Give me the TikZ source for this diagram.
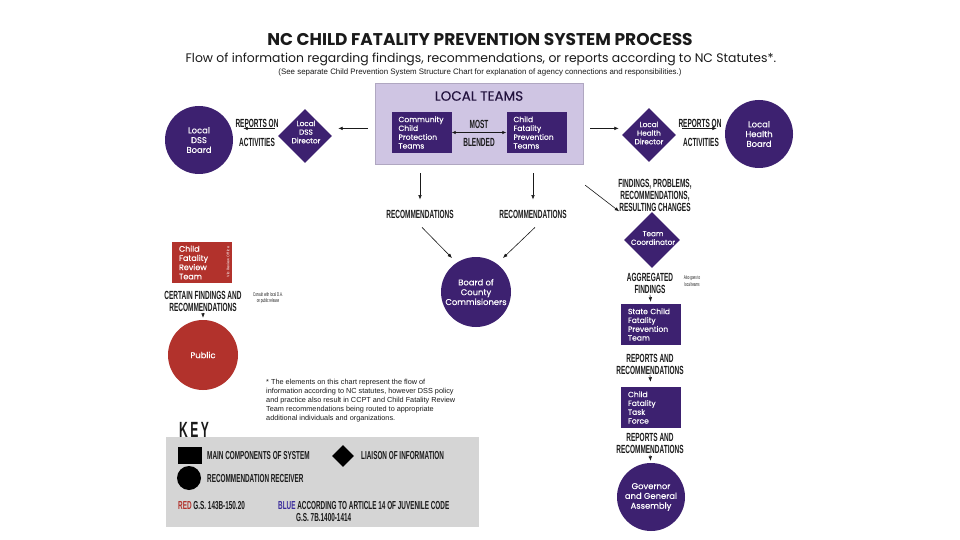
\documentclass[tikz,border=0pt]{standalone}
\usepackage{fontspec}
\setmainfont{Poppins}
\newfontfamily\nodefont[FakeBold=0.35]{Poppins}
\newfontfamily\condfont[FakeStretch=0.55]{Liberation Sans}
\newfontfamily\notefont{Liberation Sans}
\usetikzlibrary{shapes.geometric,arrows.meta,calc}
\definecolor{cfpurple}{HTML}{3D2170}
\definecolor{cflav}{HTML}{CFC5E3}
\definecolor{cfred}{HTML}{B2322C}
\definecolor{cfgrey}{HTML}{D5D5D5}
\definecolor{cfblue}{HTML}{3B2C9C}
\definecolor{cfink}{HTML}{1A1A1A}
\tikzset{
  recv/.style={circle, fill=cfpurple, inner sep=0pt, minimum size=#1},
  recv/.default=68pt,
  liaison/.style={diamond, fill=cfpurple, inner sep=0pt, aspect=1, minimum width=#1, minimum height=#1},
  liaison/.default=54pt,
  compbox/.style={rectangle, fill=cfpurple, text=white, align=left, text width=46pt, inner xsep=7pt, inner ysep=0pt, minimum height=41pt, font=\nodefont\fontsize{7.6}{8.8}\selectfont},
  wtxt/.style={text=white, align=center, inner sep=0pt, font=\nodefont\fontsize{8.4}{9.8}\selectfont},
  dtxt/.style={text=white, align=center, inner sep=0pt, font=\nodefont\fontsize{7.3}{8.6}\selectfont},
  lbl/.style={font=\condfont\bfseries\fontsize{11.8}{12}\selectfont, align=center, inner sep=1pt, text=cfink},
  keytxt/.style={font=\condfont\bfseries\fontsize{11.6}{11}\selectfont, inner sep=0pt, anchor=west, text=cfink},
  smalltxt/.style={font=\condfont\fontsize{5.4}{6.2}\selectfont, align=center, inner sep=0pt, text=cfink},
  arr/.style={-{Latex[length=4.5pt,width=3.6pt]}, line width=0.6pt, draw=cfink},
  dblarr/.style={{Latex[length=4pt,width=3.4pt]}-{Latex[length=4pt,width=3.4pt]}, line width=0.6pt, draw=cfink}
}
\begin{document}
\begin{tikzpicture}[x=1pt,y=-1pt]
\useasboundingbox (0,0) rectangle (960,540);
\fill[white] (0,0) rectangle (960,540);

% titles
\node[font=\bfseries\fontsize{17}{18}\selectfont, text=cfink] (title) at (480,40) {NC CHILD FATALITY PREVENTION SYSTEM PROCESS};
\node[font=\fontsize{12.4}{13}\selectfont, text=cfink] (subtitle) at (481,59) {Flow of information regarding findings, recommendations, or reports according to NC Statutes*.};
\node[font=\notefont\fontsize{7.9}{8}\selectfont, text=cfink] (seenote) at (480,72) {(See separate Child Prevention System Structure Chart for explanation of agency connections and responsibilities.)};

% local teams
\node[fill=cflav, draw=cflav!85!black, line width=0.4pt, minimum width=208pt, minimum height=81pt, inner sep=0pt] (lt) at (479,123.5) {};
\node[font=\nodefont\fontsize{13.5}{14}\selectfont, text=cfpurple!55!black] (ltt) at (479,96) {LOCAL TEAMS};
\node[compbox] (ccpt) at (421.5,132.5) {Community\\Child\\Protection\\Teams};
\node[compbox] (cfpt) at (536.5,132.5) {Child\\Fatality\\Prevention\\Teams};
\node[lbl] (most) at (479,124) {MOST};
\node[lbl] (blend) at (479,142) {BLENDED};
\draw[dblarr] (ccpt) -- (cfpt);

% left branch
\node[recv=68pt] (dssb) at (199,140) {};
\node[wtxt] at (dssb) {Local\\DSS\\Board};
\node[liaison] (dssd) at (305,136) {};
\node[dtxt] at (306,132) {Local\\DSS\\Director};
\node[lbl] (rpl1) at (257,123) {REPORTS ON};
\node[lbl] (rpl2) at (257,142) {ACTIVITIES};
\draw[arr, shorten <=3pt, shorten >=10pt] (dssd.west |- rpl1.south) -- (dssb.east |- rpl1.south);
\draw[arr, shorten <=7pt, shorten >=6pt] (lt.west |- rpl1.south) -- (dssd.east |- rpl1.south);

% right branch
\node[liaison] (lhd) at (649,135) {};
\node[dtxt] at (649,133) {Local\\Health\\Director};
\node[recv=68pt] (lhb) at (759,134) {};
\node[wtxt] at (lhb) {Local\\Health\\Board};
\node[lbl] (rpr1) at (700,123) {REPORTS ON};
\node[lbl] (rpr2) at (701,142) {ACTIVITIES};
\draw[arr, shorten <=7pt, shorten >=3pt] (lt.east |- rpr1.south) -- (lhd.west |- rpr1.south);
\draw[arr, shorten <=6pt, shorten >=8pt] (lhd.east |- rpr1.south) -- (lhb.west |- rpr1.south);

% recommendations to county board
\node[lbl] (rec1) at (420,214) {RECOMMENDATIONS};
\node[lbl] (rec2) at (533,214) {RECOMMENDATIONS};
\draw[arr, shorten <=9pt, shorten >=9pt] (lt.south -| rec1) -- (rec1.north);
\draw[arr, shorten <=9pt, shorten >=9pt] (lt.south -| rec2) -- (rec2.north);
\node[recv=70pt] (bcc) at (476,292) {};
\node[wtxt] at (bcc) {Board of\\County\\Commisioners};
\draw[arr] ($(rec1.south)+(2,8)$) -- ($(bcc)+(-24,-34)$);
\draw[arr] ($(rec2.south)+(2,8)$) -- ($(bcc)+(27,-34)$);

% right column
\node[lbl] (find) at (655,195) {FINDINGS, PROBLEMS,\\RECOMMENDATIONS,\\RESULTING CHANGES};
\draw[arr] ($(lt.south east)+(2,21)$) -- ($(find.south west)+(2,-1)$);
\node[liaison=56pt] (tc) at (652,240) {};
\node[dtxt] at (653,238) {Team\\Coordinator};
\node[lbl] (agg) at (650,283.5) {AGGREGATED\\FINDINGS};
\node[smalltxt] (also) at (692,281) {Also goes to\\local teams};
\node[compbox] (sfpt) at (651,324.5) {State Child\\Fatality\\Prevention\\Team};
\draw[arr, shorten >=2pt] (agg.south) -- (sfpt.north);
\node[lbl] (rep1) at (650,364) {REPORTS AND\\RECOMMENDATIONS};
\node[compbox] (cftf) at (651,407.5) {Child\\Fatality\\Task\\Force};
\draw[arr, shorten >=5pt] (rep1.south) -- (cftf.north);
\node[lbl] (rep2) at (650,443.5) {REPORTS AND\\RECOMMENDATIONS};
\node[recv=68pt] (gov) at (651,497) {};
\node[wtxt] at (gov) {Governor\\and General\\Assembly};
\draw[arr, shorten >=2pt] (rep2.south) -- (gov.north);

% left column (red)
\node[compbox, fill=cfred, font=\nodefont\fontsize{8}{9.2}\selectfont] (cfrt) at (202,262.5) {Child\\Fatality\\Review\\Team};
\node[font=\fontsize{3.6}{4}\selectfont, text=white, rotate=90, inner sep=0pt] (cfrtv) at (228,262) {Via Review Office};
\node[lbl] (cert) at (203,301.5) {CERTAIN FINDINGS AND\\RECOMMENDATIONS};
\node[smalltxt] (consult) at (268,298) {Consult with local D.A.\\on public release};
\node[circle, fill=cfred, inner sep=0pt, minimum size=70pt] (pub) at (203,355) {};
\node[wtxt] at (pub) {Public};
\draw[arr, shorten >=2pt] (cert.south) -- (pub.north);

% footnote
\node[font=\notefont\fontsize{7.3}{9}\selectfont, align=left, anchor=north west, inner sep=0pt, text=cfink] (foot) at (266,379) {* The elements on this chart represent the flow of\\information according to NC statutes, however DSS policy\\and practice also result in CCPT and Child Fatality Review\\Team recommendations being routed to appropriate\\additional individuals and organizations.};

% key
\node[font=\condfont\bfseries\fontsize{22}{22}\selectfont, text=cfink, inner sep=0pt] (keyt) at (194,430) {K\kern2.5pt E\kern2.5pt Y};
\node[fill=cfgrey, minimum width=313pt, minimum height=90pt, inner sep=0pt] (keybox) at (322.5,482) {};
\node[fill=black, minimum width=24pt, minimum height=17pt, inner sep=0pt] (kmain) at (190,455.5) {};
\node[keytxt] (kmaint) at (207,456) {MAIN COMPONENTS OF SYSTEM};
\node[diamond, fill=black, minimum width=22pt, minimum height=22pt, inner sep=0pt] (kdia) at (343,456) {};
\node[keytxt] (kdiat) at (361,456) {LIAISON OF INFORMATION};
\node[circle, fill=black, minimum size=24pt, inner sep=0pt] (kcirc) at (189,478) {};
\node[keytxt] (kcirct) at (207,479) {RECOMMENDATION RECEIVER};
\node[keytxt] (kred) at (178,506) {\textcolor{cfred}{RED} G.S. 143B-150.20};
\node[keytxt] (kblue) at (278,506) {\textcolor{cfblue}{BLUE} ACCORDING TO ARTICLE 14 OF JUVENILE CODE};
\node[keytxt] (kblue2) at (296,518) {G.S. 7B.1400-1414};
\end{tikzpicture}
\end{document}
